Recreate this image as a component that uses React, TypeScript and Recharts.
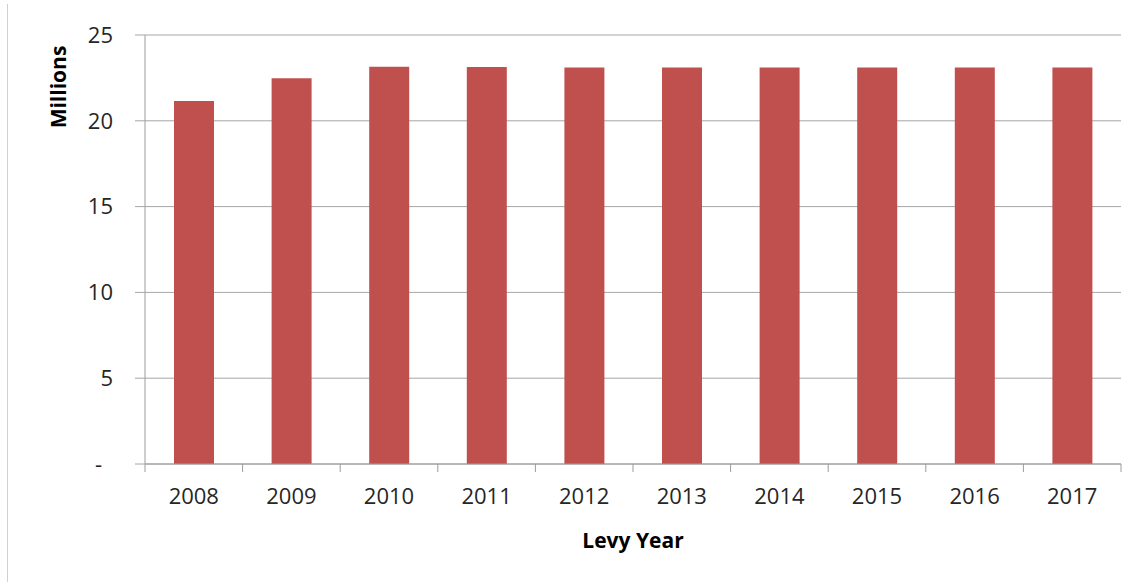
import { Bar, BarChart, CartesianGrid, Label, XAxis, YAxis } from "recharts"

// levy totals per year, in millions
const YEARS = ["2008", "2009", "2010", "2011", "2012", "2013", "2014", "2015", "2016", "2017"]
const LEVY = [21.15, 22.48, 23.15, 23.14, 23.1, 23.1, 23.1, 23.1, 23.1, 23.1]
const Y_TICKS = [0, 5, 10, 15, 20, 25]

const W = 1142
const H = 582
const MARGIN = { top: 35, right: 21, bottom: 88, left: 0 }
const Y_AXIS_W = 145
const X_AXIS_H = 30
const PLOT_W = W - MARGIN.left - MARGIN.right - Y_AXIS_W
const PLOT_BOTTOM = H - MARGIN.bottom - X_AXIS_H

const BAR = "#C0504D"
const GRID = "#A6A6A6"
const AXIS = "#9C9C9C"
const TEXT = "#262626"
const FONT = "'Open Sans', 'Liberation Sans', sans-serif"

const data = YEARS.map((year, i) => ({ year, levy: LEVY[i] }))

// Excel-style ticks sit between categories, not under them
function XTick(props: any) {
  const { x, payload, index } = props
  const band = PLOT_W / YEARS.length
  const left = x - band / 2
  const right = x + band / 2
  return (
    <g>
      <line x1={left} x2={left} y1={PLOT_BOTTOM} y2={PLOT_BOTTOM + 8} stroke={AXIS} />
      {index === YEARS.length - 1 && (
        <line x1={right} x2={right} y1={PLOT_BOTTOM} y2={PLOT_BOTTOM + 8} stroke={AXIS} />
      )}
      <text x={x} y={PLOT_BOTTOM + 40} textAnchor="middle" fill={TEXT} fontSize={22} fontFamily={FONT}>
        {payload.value}
      </text>
    </g>
  )
}

function YTick(props: any) {
  const { x, y, payload } = props
  const zero = payload.value === 0
  return (
    <text
      x={zero ? x - 11 : x}
      y={y}
      dy="0.35em"
      textAnchor="end"
      fill={TEXT}
      fontSize={22}
      fontFamily={FONT}
    >
      {zero ? "-" : payload.value}
    </text>
  )
}

const yTitle = ({ viewBox }: any) => {
  const cx = viewBox.x + 58
  const cy = viewBox.y + 52
  return (
    <text
      x={cx}
      y={cy}
      transform={`rotate(-90 ${cx} ${cy})`}
      textAnchor="middle"
      dominantBaseline="central"
      fill="#000"
      fontSize={21}
      fontWeight={700}
      fontFamily={FONT}
    >
      Millions
    </text>
  )
}

const xTitle = ({ viewBox }: any) => (
  <text
    x={viewBox.x + viewBox.width / 2}
    y={540}
    textAnchor="middle"
    dominantBaseline="central"
    fill="#000"
    fontSize={21}
    fontWeight={700}
    fontFamily={FONT}
  >
    Levy Year
  </text>
)

export default function App() {
  return (
    <div style={{ position: "absolute", left: 0, top: 0, width: W, height: H, background: "#fff" }}>
      <div style={{ position: "absolute", left: 7, top: 4, width: 1, height: H - 4, background: "#D0D0D0" }} />
      <BarChart width={W} height={H} data={data} margin={MARGIN} barSize={40}>
        <CartesianGrid vertical={false} stroke={GRID} strokeWidth={1} />
        <XAxis
          dataKey="year"
          height={X_AXIS_H}
          stroke={AXIS}
          tickLine={false}
          tick={<XTick />}
          interval={0}
        >
          <Label content={xTitle} />
        </XAxis>
        <YAxis
          width={Y_AXIS_W}
          domain={[0, 25]}
          ticks={Y_TICKS}
          interval={0}
          stroke={AXIS}
          tickLine={{ stroke: GRID }}
          tickSize={10}
          tickMargin={22}
          tick={<YTick />}
        >
          <Label content={yTitle} />
        </YAxis>
        <Bar dataKey="levy" fill={BAR} isAnimationActive={false} />
      </BarChart>
    </div>
  )
}
